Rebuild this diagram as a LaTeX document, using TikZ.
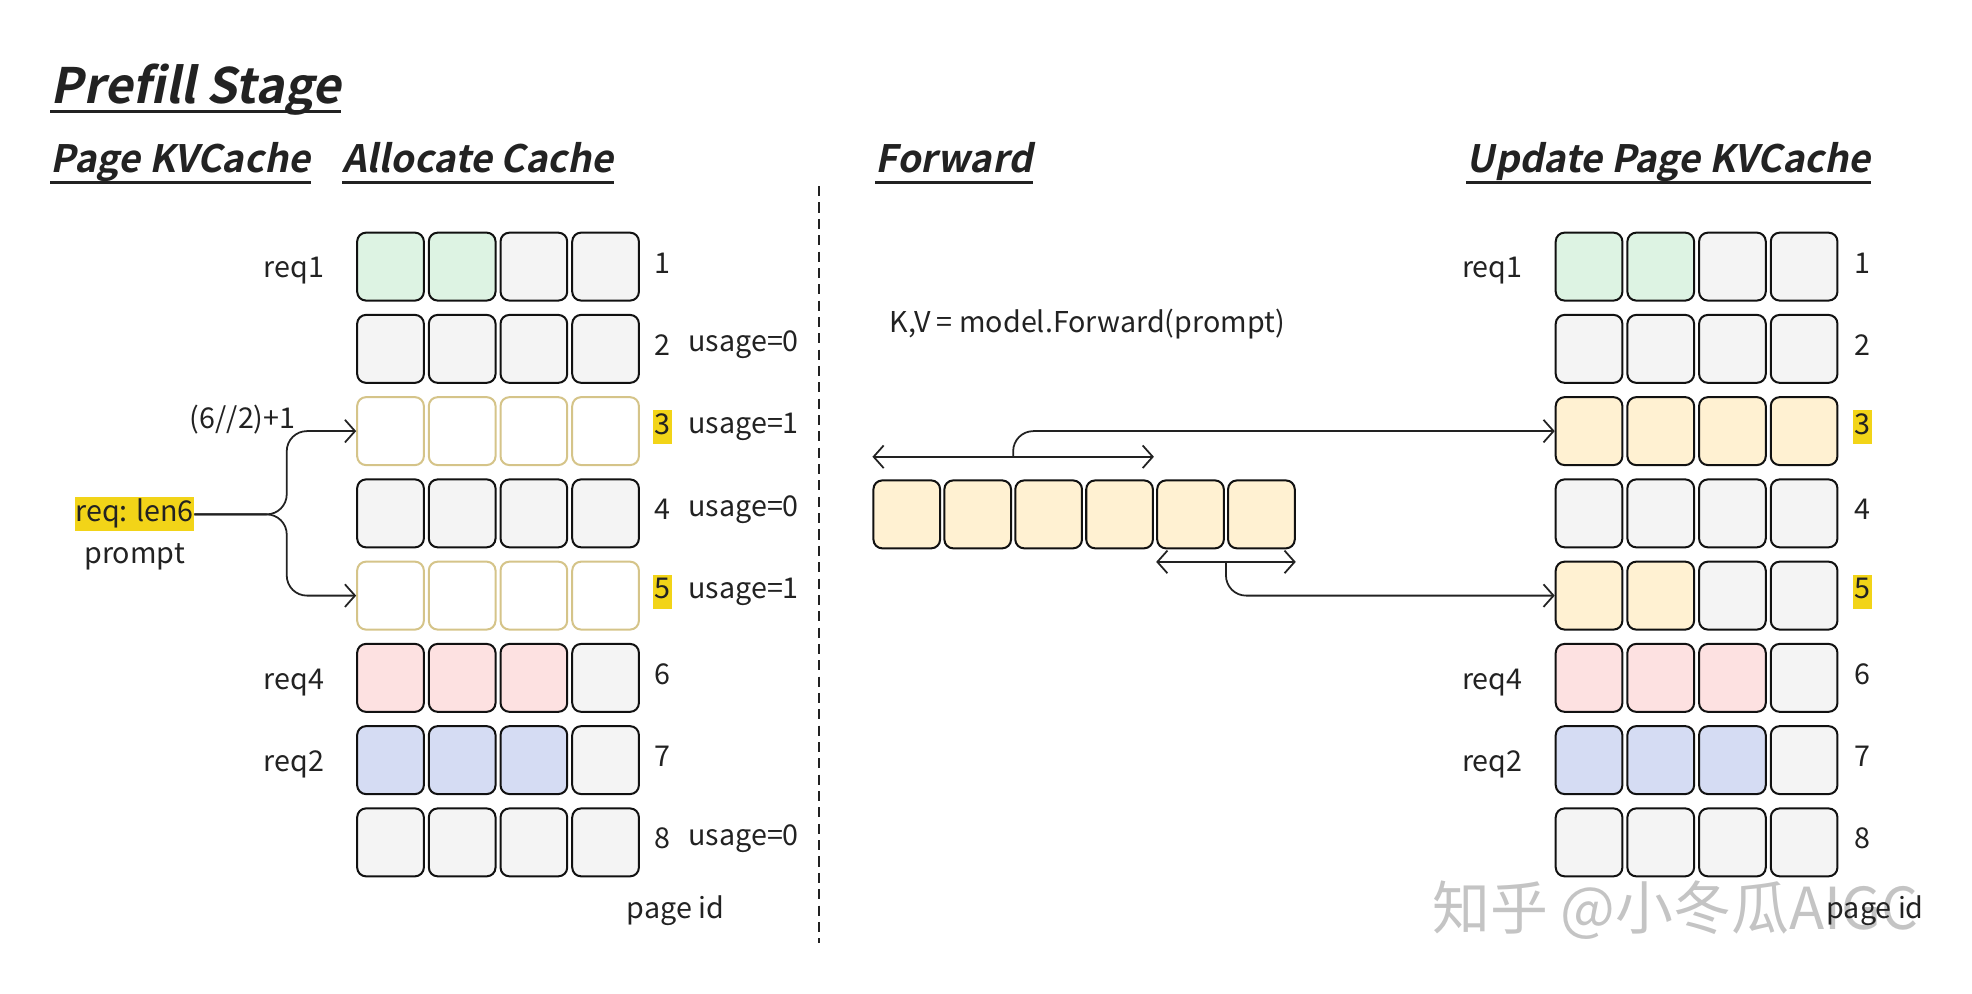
\documentclass[tikz,border=0pt]{standalone}
\usepackage{fontspec}
\setmainfont{Noto Sans CJK SC}
\newfontfamily\headfont[FakeSlant=0.2]{Noto Sans CJK SC Bold}
\usepackage{tikz}
\usetikzlibrary{arrows.meta,calc}

\definecolor{ink}{HTML}{222222}
\definecolor{Fg}{HTML}{DDF3E3}\definecolor{Dg}{HTML}{111111}
\definecolor{Fe}{HTML}{F4F4F4}\definecolor{De}{HTML}{111111}
\definecolor{Fa}{HTML}{FFFFFF}\definecolor{Da}{HTML}{D5C489}
\definecolor{Fy}{HTML}{FFF1D2}\definecolor{Dy}{HTML}{111111}
\definecolor{Fp}{HTML}{FDE1E1}\definecolor{Dp}{HTML}{111111}
\definecolor{Fb}{HTML}{D5DCF3}\definecolor{Db}{HTML}{111111}
\definecolor{hl}{HTML}{F2D418}
\definecolor{wmgray}{HTML}{C4C4C4}

\begin{document}
\begin{tikzpicture}[x=0.5pt,y=-0.5pt,font=\fontsize{11.4}{14}\selectfont,text=ink,
  cell/.style={rectangle,rounded corners=3.5pt,line width=0.8pt,minimum width=26.5pt,minimum height=27pt,inner sep=0pt},
  head/.style={font=\headfont\fontsize{15}{17}\selectfont,anchor=base west,inner sep=0pt},
  lbl/.style={inner sep=0pt},
  hi/.style={fill=hl,inner xsep=0.6pt,inner ysep=0pt,text height=9.5pt,text depth=4pt},
  link/.style={-{Straight Barb[length=4pt,width=9pt]},line width=0.7pt,draw=ink},
  span/.style={{Straight Barb[length=4pt,width=9pt]}-{Straight Barb[length=4pt,width=9pt]},line width=0.7pt,draw=ink}]
\useasboundingbox (0,0) rectangle (1568,790);

% headings
\node[head,font=\headfont\fontsize{19.4}{22}\selectfont] (prefill) at (40,82) {Prefill Stage};
\draw[line width=1.2pt,ink] ([yshift=-3.5pt]prefill.base west) -- ([yshift=-3.5pt]prefill.base east);
\foreach \n/\x/\t in {hkv/40/Page KVCache,halloc/272/Allocate Cache,hfwd/696/Forward,hupd/1166/Update Page KVCache} {
  \node[head] (\n) at (\x,137) {\t};
  \draw[line width=1pt,ink] ([yshift=-4pt]\n.base west) -- ([yshift=-4pt]\n.base east);
}
\draw[dash pattern=on 4pt off 2.5pt,line width=0.7pt,ink] (651,148) -- (651,750);

% page tables
\foreach \r/\ka/\kb/\kc/\kd in {1/g/g/e/e,2/e/e/e/e,3/a/a/a/a,4/e/e/e/e,5/a/a/a/a,6/p/p/p/e,7/b/b/b/e,8/e/e/e/e} {
  \foreach \k [count=\c] in {\ka,\kb,\kc,\kd} {
    \node[cell,fill=F\k,draw=D\k] (L-\r-\c) at (253.5+57*\c,146.6+65.4*\r) {};
  }
}
\foreach \r/\ka/\kb/\kc/\kd in {1/g/g/e/e,2/e/e/e/e,3/y/y/y/y,4/e/e/e/e,5/y/y/e/e,6/p/p/p/e,7/b/b/b/e,8/e/e/e/e} {
  \foreach \k [count=\c] in {\ka,\kb,\kc,\kd} {
    \node[cell,fill=F\k,draw=D\k] (R-\r-\c) at (1206.5+57*\c,146.6+65.4*\r) {};
  }
}
\foreach \r in {1,2,4,6,7,8} {
  \node[lbl] (lp\r) at (527,143.6+65.4*\r) {\r};
  \node[lbl] (rp\r) at (1481,143.6+65.4*\r) {\r};
}
\foreach \r in {3,5} {
  \node[hi] (lp\r) at (527,143.6+65.4*\r) {\r};
  \node[hi] (rp\r) at (1481,143.6+65.4*\r) {\r};
}
\foreach \r/\u in {2/0,3/1,4/0,5/1,8/0}
  \node[lbl,anchor=west] (us\r) at (547,143.6+65.4*\r) {usage=\u};
\foreach \r/\q in {1/req1,6/req4,7/req2} {
  \node[lbl,anchor=east] (lq\r) at (258,150+65.4*\r) {\q};
  \node[lbl,anchor=east] (rq\r) at (1211,150+65.4*\r) {\q};
}
\node[font=\fontsize{23}{26}\selectfont,text=wmgray] (wm) at (1332,724) {知乎 @小冬瓜AIGC};
\node[lbl] (lpid) at (537,724) {page id};
\node[lbl] (rpid) at (1491,724) {page id};

% allocate
\node[hi,inner xsep=0pt] (req) at (107,409) {req: len6};
\node[lbl] (prompt) at (107,443) {prompt};
\node[lbl] (split) at (193,334) {(6//2)+1};
\coordinate (fork) at (228,409);
\draw[link,rounded corners=8pt] (req.east) -- (fork) |- (L-3-1.west);
\draw[link,rounded corners=8pt] (req.east) -- (fork) |- (L-5-1.west);

% forward
\node[lbl,anchor=west] (kv) at (707,258) {K,V = model.Forward(prompt)};
\foreach \i in {1,...,6}
  \node[cell,fill=Fy,draw=Dy] (T\i) at (664.6+56.4*\i,409) {};
\draw[span] ([yshift=9pt]T1.north west) -- ([yshift=9pt]T4.north east);
\draw[span] ([yshift=-5pt]T5.south west) -- ([yshift=-5pt]T6.south east);
\coordinate (k3) at ($([yshift=9pt]T1.north west)!0.5!([yshift=9pt]T4.north east)$);
\coordinate (k5) at ($([yshift=-5pt]T5.south west)!0.5!([yshift=-5pt]T6.south east)$);
\draw[link,rounded corners=8pt] (k3) |- (R-3-1.west);
\draw[link,rounded corners=8pt] (k5) |- (R-5-1.west);
\end{tikzpicture}
\end{document}
